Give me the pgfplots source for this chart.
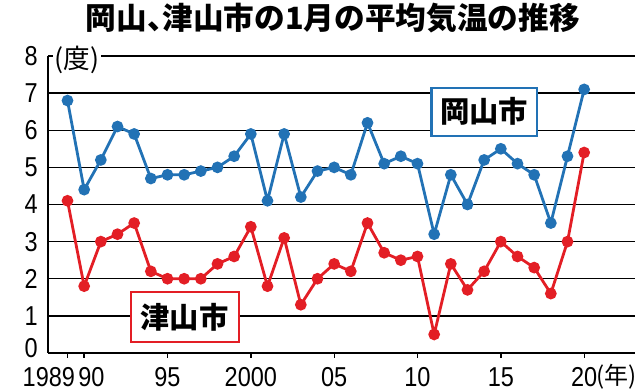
\documentclass[border=0pt]{standalone}
\usepackage{fontspec}
\usepackage{pgfplots}
\pgfplotsset{compat=1.18}
\setmainfont{Liberation Sans}
\newfontfamily\numfont[FakeStretch=0.86]{Liberation Sans}
\newfontfamily\cjk{Noto Sans CJK JP}
\definecolor{okablue}{HTML}{2272B5}
\definecolor{tsured}{HTML}{E31E25}
\begin{document}
\begin{tikzpicture}
\begin{axis}[
  at={(0,0)}, anchor=south west,
  scale only axis,
  width=440.25pt, height=222.75pt,
  xmin=1987.83, xmax=2023.05,
  ymin=0, ymax=8,
  axis x line=bottom, axis y line=left,
  axis line style={-, line width=1pt, black},
  xtick={1989,1990,1995,2000,2005,2010,2015,2020},
  xticklabels={\makebox[0pt]{1989\hspace*{28pt}},\makebox[0pt]{\hspace*{11pt}90},95,2000,05,10,15,20},
  ytick={0,1,2,3,4,5,6,7,8},
  yticklabels={\raisebox{8pt}{0},1,2,3,4,5,6,7,8},
  tick align=outside,
  x tick style={line width=1pt, black},
  y tick style={draw=none},
  major tick length=3.75pt,
  ticklabel style={font=\numfont\fontsize{20.5}{20.5}\selectfont, inner sep=0pt},
  xticklabel style={anchor=north, yshift=-6.75pt},
  yticklabel style={anchor=east, xshift=-3.75pt},
  ymajorgrids,
  grid style={line width=1pt, black},
  clip=false,
]
\addplot[color=okablue, line width=2.1pt, mark=*, mark size=3.3pt, mark options={solid}] coordinates {
(1989,6.8)(1990,4.4)(1991,5.2)(1992,6.1)(1993,5.9)(1994,4.7)(1995,4.8)(1996,4.8)(1997,4.9)(1998,5.0)
(1999,5.3)(2000,5.9)(2001,4.1)(2002,5.9)(2003,4.2)(2004,4.9)(2005,5.0)(2006,4.8)(2007,6.2)(2008,5.1)
(2009,5.3)(2010,5.1)(2011,3.2)(2012,4.8)(2013,4.0)(2014,5.2)(2015,5.5)(2016,5.1)(2017,4.8)(2018,3.5)
(2019,5.3)(2020,7.1)};
\addplot[color=tsured, line width=2.1pt, mark=*, mark size=3.3pt, mark options={solid}] coordinates {
(1989,4.1)(1990,1.8)(1991,3.0)(1992,3.2)(1993,3.5)(1994,2.2)(1995,2.0)(1996,2.0)(1997,2.0)(1998,2.4)
(1999,2.6)(2000,3.4)(2001,1.8)(2002,3.1)(2003,1.3)(2004,2.0)(2005,2.4)(2006,2.2)(2007,3.5)(2008,2.7)
(2009,2.5)(2010,2.6)(2011,0.5)(2012,2.4)(2013,1.7)(2014,2.2)(2015,3.0)(2016,2.6)(2017,2.3)(2018,1.6)
(2019,3.0)(2020,5.4)};
\node[fill=white, inner sep=1pt, font=\cjk\fontsize{20}{20}\selectfont] at (axis cs:1989.57,7.9) {(度)};
\node[draw=okablue, line width=1.6pt, fill=white, minimum width=79pt, minimum height=36pt, inner sep=0pt, font=\cjk\bfseries\fontsize{22}{22}\selectfont] at (axis cs:2014.0,6.5) {岡山市};
\node[draw=tsured, line width=1.6pt, fill=white, minimum width=81pt, minimum height=37pt, inner sep=0pt, font=\cjk\bfseries\fontsize{22}{22}\selectfont] at (axis cs:1996.03,0.97) {津山市};
\end{axis}
\node[anchor=west, inner sep=0pt, font=\cjk\fontsize{18}{18}\selectfont] at (411pt,-18pt) {(年)};
\node[anchor=east, inner sep=0pt, font=\cjk\bfseries\fontsize{23}{23}\selectfont] at (399pt,251.25pt) {岡山\makebox[0.5em][l]{、}津山市の1月の平均気温の推移};
\pgfresetboundingbox
\path[use as bounding box] (-36pt,-28.5pt) rectangle (444pt,264.75pt);
\end{tikzpicture}
\end{document}
